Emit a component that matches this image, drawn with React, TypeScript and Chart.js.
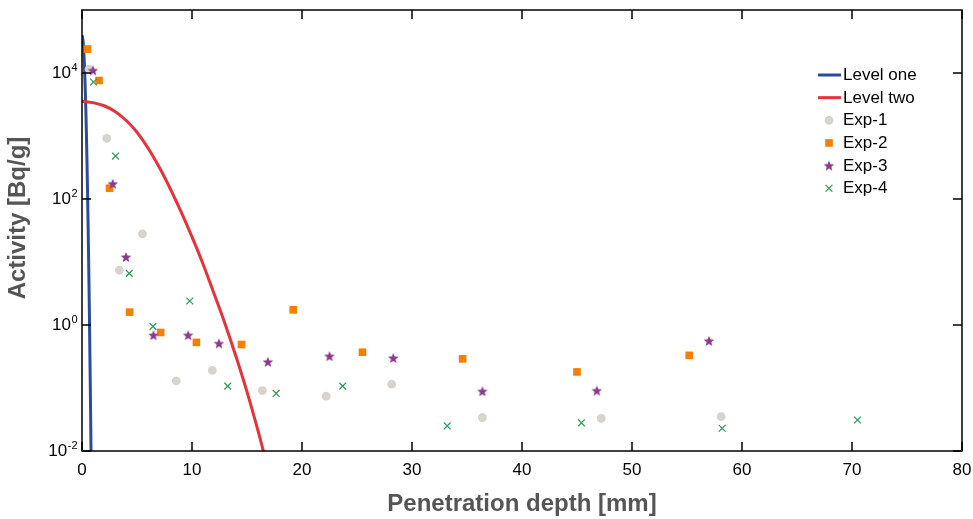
import { useEffect, useRef } from 'react';
import { Chart, registerables } from 'chart.js';

Chart.register(...registerables);

// ---------- data ----------
const levelOneX = [0, 0.1, 0.2, 0.3, 0.4, 0.5, 0.6, 0.7, 0.8, 0.9];
const levelOneY = [40000, 32000, 16000, 5200, 1100, 140, 12, 0.63, 0.021, 0.0005];

const levelTwoX = [0, 1, 2, 3, 4, 5, 6, 7, 8, 9, 10, 11, 12, 13, 14, 15, 16, 17];
const levelTwoY = [3548, 3388, 3020, 2455, 1778, 1148, 646, 324, 148, 63, 25, 9.3, 3.16, 1.05, 0.316, 0.087, 0.021, 0.0045];

const exp1X = [0.65, 2.25, 3.4, 5.5, 8.57, 11.85, 16.4, 22.2, 28.15, 36.4, 47.2, 58.1];
const exp1Y = [11500, 920, 7.4, 28, 0.13, 0.19, 0.091, 0.074, 0.115, 0.034, 0.033, 0.035];

const exp2X = [0.5, 1.55, 2.5, 4.33, 7.15, 10.4, 14.5, 19.2, 25.5, 34.6, 45.0, 55.2];
const exp2Y = [24000, 7600, 148, 1.6, 0.76, 0.53, 0.49, 1.74, 0.37, 0.29, 0.18, 0.33];

const exp3X = [1.0, 2.8, 4.0, 6.5, 9.65, 12.45, 16.9, 22.5, 28.3, 36.4, 46.8, 57.0];
const exp3Y = [11000, 175, 12, 0.69, 0.69, 0.51, 0.26, 0.32, 0.30, 0.089, 0.091, 0.56];

const exp4X = [1.05, 3.05, 4.3, 6.45, 9.8, 13.25, 17.65, 23.7, 33.2, 45.4, 58.2, 70.5];
const exp4Y = [7200, 480, 6.6, 0.95, 2.4, 0.107, 0.082, 0.107, 0.025, 0.028, 0.023, 0.031];

const seriesLabels = ['Level one', 'Level two', 'Exp-1', 'Exp-2', 'Exp-3', 'Exp-4'];
const xTickValues = [0, 10, 20, 30, 40, 50, 60, 70, 80];
const yTickValues = [0.01, 1, 100, 10000];
const xTitle = 'Penetration depth [mm]';
const yTitle = 'Activity [Bq/g]';

const BLUE = '#2b4c9c';
const RED = '#e6333a';
const GRAY = '#d8d3cc';
const ORANGE = '#f58000';
const PURPLE = '#8b3a8c';
const GREEN = '#2a9a58';

const FONT = '"Liberation Sans", Arial, Helvetica, sans-serif';

const toPts = (xs: number[], ys: number[]) => xs.map((x, i) => ({ x, y: ys[i] }));

function makeStar(color: string, outer: number, inner: number) {
  const size = Math.ceil(outer * 2 + 2);
  const c = document.createElement('canvas');
  c.width = size;
  c.height = size;
  const ctx = c.getContext('2d')!;
  const cx = size / 2;
  const cy = size / 2 + 0.5;
  ctx.beginPath();
  for (let i = 0; i < 10; i++) {
    const r = i % 2 === 0 ? outer : inner;
    const a = -Math.PI / 2 + (i * Math.PI) / 5;
    const px = cx + r * Math.cos(a);
    const py = cy + r * Math.sin(a);
    if (i === 0) ctx.moveTo(px, py);
    else ctx.lineTo(px, py);
  }
  ctx.closePath();
  ctx.fillStyle = color;
  ctx.fill();
  return c;
}

function drawMarker(ctx: CanvasRenderingContext2D, ds: any, x: number, y: number) {
  const style = ds.pointStyle;
  const r = ds.pointRadius;
  ctx.save();
  if (style instanceof HTMLCanvasElement) {
    ctx.drawImage(style, x - style.width / 2, y - style.height / 2);
  } else if (style === 'circle') {
    ctx.beginPath();
    ctx.arc(x, y, r, 0, Math.PI * 2);
    ctx.fillStyle = ds.backgroundColor;
    ctx.fill();
  } else if (style === 'rect') {
    const s = Math.SQRT1_2 * r;
    ctx.fillStyle = ds.backgroundColor;
    ctx.fillRect(x - s, y - s, 2 * s, 2 * s);
  } else if (style === 'crossRot') {
    const s = Math.SQRT1_2 * r;
    ctx.strokeStyle = ds.borderColor;
    ctx.lineWidth = ds.pointBorderWidth;
    ctx.beginPath();
    ctx.moveTo(x - s, y - s);
    ctx.lineTo(x + s, y + s);
    ctx.moveTo(x - s, y + s);
    ctx.lineTo(x + s, y - s);
    ctx.stroke();
  }
  ctx.restore();
}

const framePlugin = {
  id: 'frameTicks',
  afterDatasetsDraw(chart: any) {
    const { ctx, chartArea } = chart;
    const { left, right, top, bottom } = chartArea;
    const xs = chart.scales.x;
    const ys = chart.scales.y;
    ctx.save();
    ctx.strokeStyle = '#000';
    ctx.lineWidth = 1.5;
    ctx.strokeRect(left, top, right - left, bottom - top);
    const tl = 9;
    ctx.beginPath();
    xs.ticks.forEach((t: any) => {
      const px = xs.getPixelForValue(t.value);
      ctx.moveTo(px, bottom);
      ctx.lineTo(px, bottom - tl);
      ctx.moveTo(px, top);
      ctx.lineTo(px, top + tl);
    });
    ys.ticks.forEach((t: any) => {
      const py = ys.getPixelForValue(t.value);
      ctx.moveTo(left, py);
      ctx.lineTo(left + tl, py);
      ctx.moveTo(right, py);
      ctx.lineTo(right - tl, py);
    });
    ctx.stroke();

    // x tick labels
    ctx.fillStyle = '#000';
    ctx.font = `17px ${FONT}`;
    ctx.textAlign = 'center';
    ctx.textBaseline = 'middle';
    xs.ticks.forEach((t: any) => {
      const px = xs.getPixelForValue(t.value);
      ctx.fillText(String(t.value), px, bottom + 19);
    });

    // y tick labels (10 with superscript exponent)
    const rightEdge = left - 4.5;
    ys.ticks.forEach((t: any) => {
      const py = ys.getPixelForValue(t.value);
      const exp = String(Math.round(Math.log10(t.value)));
      ctx.font = `11px ${FONT}`;
      const ew = ctx.measureText(exp).width;
      ctx.textAlign = 'left';
      ctx.fillText(exp, rightEdge - ew, py - 5.5);
      ctx.font = `17px ${FONT}`;
      ctx.textAlign = 'right';
      ctx.fillText('10', rightEdge - ew - 0.5, py + 0.5);
    });

    // y axis title
    ctx.save();
    ctx.translate(18.5, 218);
    ctx.rotate(-Math.PI / 2);
    ctx.font = `bold 24px ${FONT}`;
    ctx.fillStyle = '#555555';
    ctx.textAlign = 'center';
    ctx.textBaseline = 'middle';
    ctx.fillText(yTitle, 0, 0);
    ctx.restore();

    // legend
    const datasets = chart.data.datasets;
    const rowY0 = 75;
    const rowStep = 22.65;
    const lineX0 = 818;
    const lineX1 = 841;
    const textX = 843;
    ctx.font = `17px ${FONT}`;
    ctx.textAlign = 'left';
    ctx.textBaseline = 'middle';
    datasets.forEach((ds: any, i: number) => {
      const y = rowY0 + i * rowStep;
      if (ds.showLine) {
        ctx.strokeStyle = ds.borderColor;
        ctx.lineWidth = ds.borderWidth;
        ctx.beginPath();
        ctx.moveTo(lineX0, y);
        ctx.lineTo(lineX1, y);
        ctx.stroke();
      } else {
        drawMarker(ctx, ds, (lineX0 + lineX1) / 2 - 0.5, y);
      }
      ctx.fillStyle = '#000';
      ctx.fillText(ds.label, textX, y + 0.5);
    });
    ctx.restore();
  },
};

export default function App() {
  const ref = useRef<HTMLCanvasElement | null>(null);

  useEffect(() => {
    document.body.style.margin = '0';
    const canvas = ref.current;
    if (!canvas) return;
    const star = makeStar(PURPLE, 5.6, 2.4);

    const chart = new Chart(canvas, {
      type: 'scatter',
      data: {
        datasets: [
          {
            label: seriesLabels[0],
            data: toPts(levelOneX, levelOneY),
            showLine: true,
            borderColor: BLUE,
            backgroundColor: BLUE,
            borderWidth: 3,
            pointRadius: 0,
            tension: 0.4,
            clip: 0,
            order: 10,
          },
          {
            label: seriesLabels[1],
            data: toPts(levelTwoX, levelTwoY),
            showLine: true,
            borderColor: RED,
            backgroundColor: RED,
            borderWidth: 3,
            pointRadius: 0,
            tension: 0.4,
            clip: 0,
            order: 9,
          },
          {
            label: seriesLabels[2],
            data: toPts(exp1X, exp1Y),
            showLine: false,
            pointStyle: 'circle',
            pointRadius: 4.4,
            pointBorderWidth: 0,
            backgroundColor: GRAY,
            borderColor: GRAY,
            order: 4,
          },
          {
            label: seriesLabels[3],
            data: toPts(exp2X, exp2Y),
            showLine: false,
            pointStyle: 'rect',
            pointRadius: 5.4,
            pointBorderWidth: 0,
            backgroundColor: ORANGE,
            borderColor: ORANGE,
            order: 3,
          },
          {
            label: seriesLabels[4],
            data: toPts(exp3X, exp3Y),
            showLine: false,
            pointStyle: star,
            pointRadius: 5.5,
            pointBorderWidth: 0,
            backgroundColor: PURPLE,
            borderColor: PURPLE,
            order: 2,
          },
          {
            label: seriesLabels[5],
            data: toPts(exp4X, exp4Y),
            showLine: false,
            pointStyle: 'crossRot',
            pointRadius: 4.8,
            pointBorderWidth: 1.2,
            backgroundColor: GREEN,
            borderColor: GREEN,
            order: 1,
          },
        ] as any,
      },
      options: {
        animation: false,
        responsive: false,
        devicePixelRatio: 1,
        layout: { padding: { left: 0, right: 11, top: 10, bottom: 0 } },
        plugins: {
          legend: { display: false },
          tooltip: { enabled: false },
        },
        scales: {
          x: {
            type: 'linear',
            min: 0,
            max: 80,
            afterBuildTicks: (scale: any) => {
              scale.ticks = xTickValues.map((v) => ({ value: v }));
            },
            afterFit: (scale: any) => {
              scale.height = 68;
            },
            ticks: { display: false },
            grid: { display: false },
            border: { display: false },
            title: {
              display: true,
              text: xTitle,
              color: '#555555',
              font: { family: FONT, size: 24, weight: 'bold' },
              padding: { top: 0, bottom: 0 },
            },
          },
          y: {
            type: 'logarithmic',
            min: 0.01,
            max: 100000,
            afterBuildTicks: (scale: any) => {
              scale.ticks = yTickValues.map((v) => ({ value: v }));
            },
            afterFit: (scale: any) => {
              scale.width = 82;
            },
            ticks: { display: false },
            grid: { display: false },
            border: { display: false },
            title: { display: false },
          },
        },
      } as any,
      plugins: [framePlugin],
    });
    return () => chart.destroy();
  }, []);

  return (
    <div style={{ width: 973, height: 519, background: '#fff' }}>
      <canvas ref={ref} width={973} height={519} style={{ display: 'block' }} />
    </div>
  );
}
